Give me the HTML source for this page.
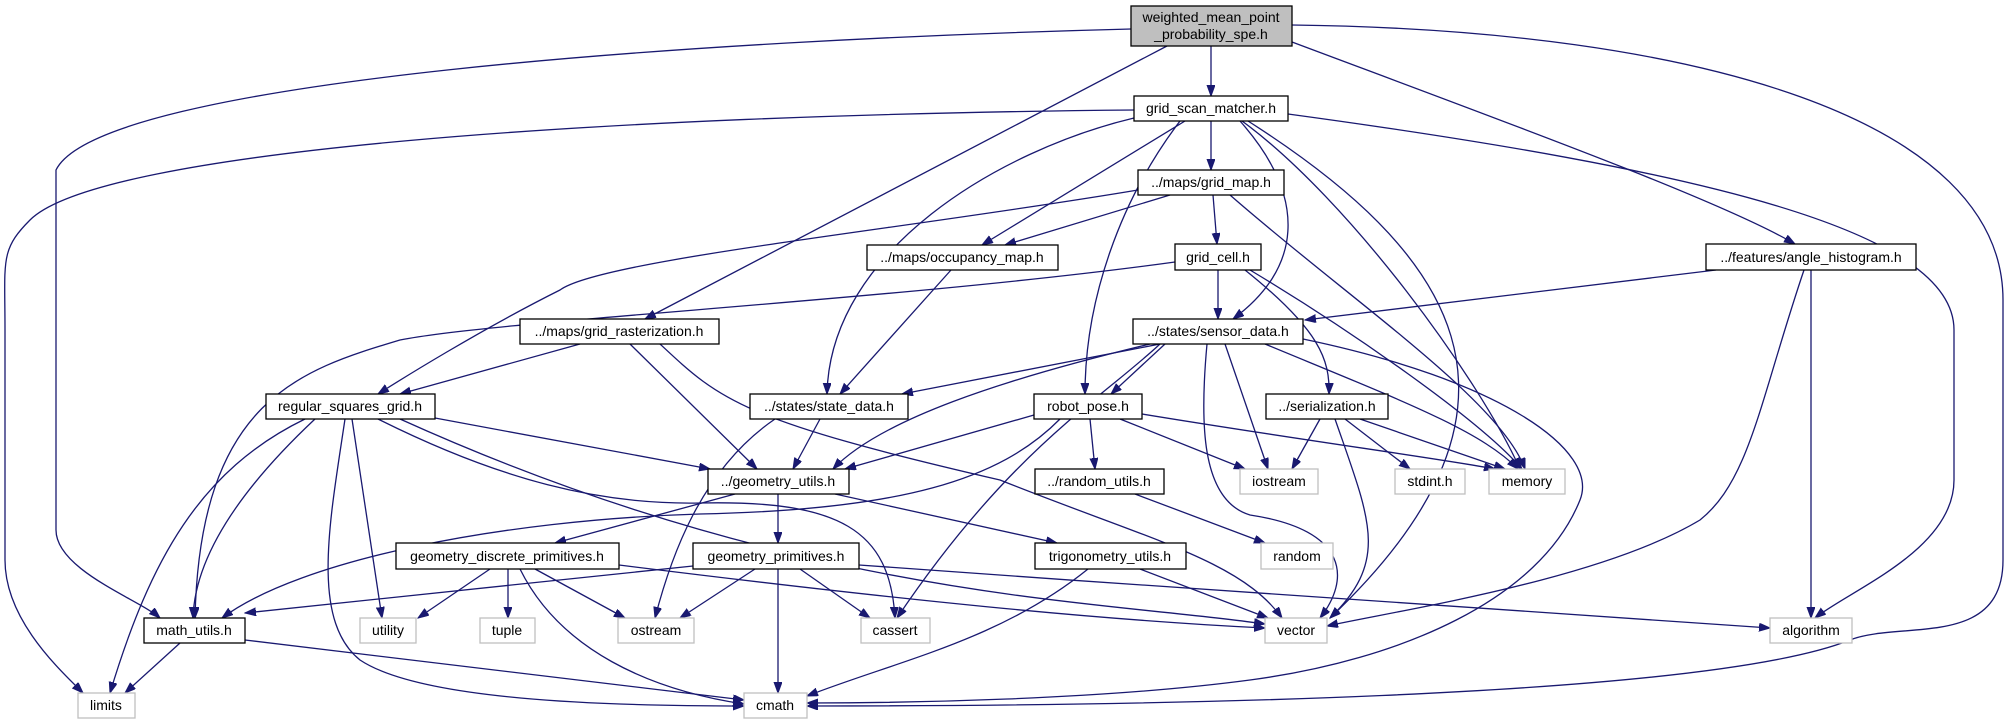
<!DOCTYPE html>
<html><head><meta charset="utf-8"><style>
html,body{margin:0;padding:0;background:#fff;}
svg{display:block;}
text{font-family:"Liberation Sans",sans-serif;font-size:14px;fill:#000;}
.e{fill:none;stroke:#191970;stroke-width:1.3;marker-end:url(#a);}
.n{fill:#fff;stroke:#000;stroke-width:1.3;}
.s{fill:#fff;stroke:#bfbfbf;stroke-width:1.3;}
</style></head><body>
<svg width="2011" height="724" viewBox="0 0 2011 724" xmlns="http://www.w3.org/2000/svg">
<defs><marker id="a" markerWidth="12" markerHeight="9" refX="11" refY="4" orient="auto" markerUnits="userSpaceOnUse"><path d="M0,0 L11,4 L0,8 z" fill="#191970" stroke="#191970"/></marker></defs>
<g>
<path class="e" d="M1211 46 L1211 96"/>
<path class="e" d="M1131 29 C700 40 100 80 56 170 L56 530 C56 570 140 600 160 618"/>
<path class="e" d="M1167 46 L645 319"/>
<path class="e" d="M1292 42 C1500 120 1720 200 1795 244"/>
<path class="e" d="M1292 25 C1700 30 2003 120 2003 300 L2003 560 C2003 650 1900 620 1850 640 C1700 700 1100 706 807 706"/>
<path class="e" d="M1134 110 C600 115 100 150 30 220 C0 250 5 260 5 330 L5 560 C5 620 60 670 83 693"/>
<path class="e" d="M1211 121 L1211 170"/>
<path class="e" d="M1185 121 L982 245"/>
<path class="e" d="M1134 118 C1000 150 830 250 827 394"/>
<path class="e" d="M1240 121 C1310 200 1300 270 1233 319"/>
<path class="e" d="M1180 121 C1120 200 1085 300 1085 394"/>
<path class="e" d="M1242 121 C1350 200 1480 380 1520 469"/>
<path class="e" d="M1248 121 C1450 250 1560 400 1330 618"/>
<path class="e" d="M1288 114 C1700 170 1954 230 1954 330 L1954 480 C1954 550 1850 590 1815 618"/>
<path class="e" d="M1170 195 L1005 245"/>
<path class="e" d="M1213 195 L1217 244"/>
<path class="e" d="M1230 195 C1350 300 1500 400 1525 469"/>
<path class="e" d="M1138 190 C900 230 600 260 560 290 C480 330 400 380 378 394"/>
<path class="e" d="M1218 270 L1218 319"/>
<path class="e" d="M1245 270 C1320 330 1330 360 1329 394"/>
<path class="e" d="M1250 270 C1350 330 1480 420 1522 469"/>
<path class="e" d="M1175 262 C900 300 500 320 400 340 C300 370 200 400 195 618"/>
<path class="e" d="M951 270 L840 394"/>
<path class="e" d="M1716 270 L1305 320"/>
<path class="e" d="M1804 270 C1760 400 1750 480 1700 520 C1600 580 1400 610 1327 626"/>
<path class="e" d="M1811 270 L1811 618"/>
<path class="e" d="M1160 344 L902 394"/>
<path class="e" d="M1150 344 C1000 380 880 420 833 469"/>
<path class="e" d="M1165 344 L1111 394"/>
<path class="e" d="M1225 344 L1268 469"/>
<path class="e" d="M1207 344 C1200 420 1200 500 1250 515 C1350 530 1350 580 1320 618"/>
<path class="e" d="M1265 344 C1400 400 1480 430 1518 469"/>
<path class="e" d="M1160 344 C1100 400 1010 450 897 618"/>
<path class="e" d="M1303 339 C1500 380 1600 450 1580 500 C1540 600 1400 660 1250 680 C1100 700 900 703 807 703"/>
<path class="e" d="M580 344 L400 394"/>
<path class="e" d="M630 344 L757 469"/>
<path class="e" d="M660 344 C720 400 740 420 1000 480 C1150 540 1240 560 1282 618"/>
<path class="e" d="M435 418 L710 469"/>
<path class="e" d="M315 419 C250 480 195 550 193 618"/>
<path class="e" d="M305 419 C200 470 150 560 110 693"/>
<path class="e" d="M345 419 C330 520 310 620 360 660 C420 700 600 706 744 706"/>
<path class="e" d="M352 419 L382 618"/>
<path class="e" d="M378 419 C500 480 600 505 700 503 C840 500 890 530 895 618"/>
<path class="e" d="M400 419 C800 600 1100 600 1265 624"/>
<path class="e" d="M820 419 L793 469"/>
<path class="e" d="M775 419 C700 470 670 560 655 618"/>
<path class="e" d="M735 494 L555 543"/>
<path class="e" d="M778 494 L778 543"/>
<path class="e" d="M835 494 L1057 543"/>
<path class="e" d="M490 569 L418 618"/>
<path class="e" d="M508 569 L508 618"/>
<path class="e" d="M535 569 L625 618"/>
<path class="e" d="M520 569 C560 650 650 690 744 704"/>
<path class="e" d="M619 565 C900 600 1100 620 1265 628"/>
<path class="e" d="M693 566 L245 613"/>
<path class="e" d="M755 569 L680 618"/>
<path class="e" d="M778 569 L778 693"/>
<path class="e" d="M800 569 L870 618"/>
<path class="e" d="M859 565 C1200 590 1600 615 1770 628"/>
<path class="e" d="M180 643 L125 693"/>
<path class="e" d="M245 640 L744 700"/>
<path class="e" d="M1034 415 L845 469"/>
<path class="e" d="M1060 419 C1000 480 900 510 700 514 C500 520 300 560 222 618"/>
<path class="e" d="M1120 419 L1245 469"/>
<path class="e" d="M1142 414 C1300 440 1450 460 1495 469"/>
<path class="e" d="M1090 419 L1095 469"/>
<path class="e" d="M1135 494 L1265 543"/>
<path class="e" d="M1140 569 L1268 618"/>
<path class="e" d="M1088 569 C1000 640 900 660 807 696"/>
<path class="e" d="M1320 419 L1292 469"/>
<path class="e" d="M1345 419 L1410 469"/>
<path class="e" d="M1360 419 L1505 469"/>
<path class="e" d="M1335 419 C1370 520 1390 560 1330 618"/>
</g>
<g text-anchor="middle">
<rect x="1131" y="6" width="161" height="40" fill="#bfbfbf" stroke="#000" stroke-width="1.3"/>
<text x="1211" y="22">weighted_mean_point</text><text x="1211" y="39">_probability_spe.h</text>
<rect class="n" x="1134" y="96" width="154" height="25"/><text x="1211" y="113">grid_scan_matcher.h</text>
<rect class="n" x="1138" y="170" width="146" height="25"/><text x="1211" y="187">../maps/grid_map.h</text>
<rect class="n" x="867" y="245" width="191" height="25"/><text x="962" y="262">../maps/occupancy_map.h</text>
<rect class="n" x="1175" y="244" width="86" height="26"/><text x="1218" y="262">grid_cell.h</text>
<rect class="n" x="1706" y="244" width="210" height="26"/><text x="1811" y="262">../features/angle_histogram.h</text>
<rect class="n" x="1133" y="319" width="170" height="25"/><text x="1218" y="336">../states/sensor_data.h</text>
<rect class="n" x="520" y="319" width="199" height="25"/><text x="619" y="336">../maps/grid_rasterization.h</text>
<rect class="n" x="266" y="394" width="169" height="25"/><text x="350" y="411">regular_squares_grid.h</text>
<rect class="n" x="750" y="394" width="158" height="25"/><text x="829" y="411">../states/state_data.h</text>
<rect class="n" x="1034" y="394" width="108" height="25"/><text x="1088" y="411">robot_pose.h</text>
<rect class="n" x="1266" y="394" width="122" height="25"/><text x="1327" y="411">../serialization.h</text>
<rect class="n" x="708" y="469" width="141" height="25"/><text x="778" y="486">../geometry_utils.h</text>
<rect class="n" x="1035" y="469" width="129" height="25"/><text x="1099" y="486">../random_utils.h</text>
<rect class="s" x="1240" y="469" width="78" height="25"/><text x="1279" y="486">iostream</text>
<rect class="s" x="1395" y="469" width="70" height="25"/><text x="1430" y="486">stdint.h</text>
<rect class="s" x="1489" y="469" width="76" height="25"/><text x="1527" y="486">memory</text>
<rect class="n" x="396" y="543" width="223" height="26"/><text x="507" y="561">geometry_discrete_primitives.h</text>
<rect class="n" x="693" y="543" width="166" height="26"/><text x="776" y="561">geometry_primitives.h</text>
<rect class="n" x="1035" y="543" width="151" height="26"/><text x="1110" y="561">trigonometry_utils.h</text>
<rect class="s" x="1261" y="543" width="72" height="26"/><text x="1297" y="561">random</text>
<rect class="n" x="144" y="618" width="101" height="25"/><text x="194" y="635">math_utils.h</text>
<rect class="s" x="360" y="618" width="56" height="25"/><text x="388" y="635">utility</text>
<rect class="s" x="480" y="618" width="55" height="25"/><text x="507" y="635">tuple</text>
<rect class="s" x="618" y="618" width="76" height="25"/><text x="656" y="635">ostream</text>
<rect class="s" x="861" y="618" width="69" height="25"/><text x="895" y="635">cassert</text>
<rect class="s" x="1265" y="618" width="62" height="25"/><text x="1296" y="635">vector</text>
<rect class="s" x="1770" y="618" width="82" height="25"/><text x="1811" y="635">algorithm</text>
<rect class="s" x="78" y="693" width="57" height="25"/><text x="106" y="710">limits</text>
<rect class="s" x="744" y="693" width="63" height="25"/><text x="775" y="710">cmath</text>
</g>
</svg>
</body></html>
